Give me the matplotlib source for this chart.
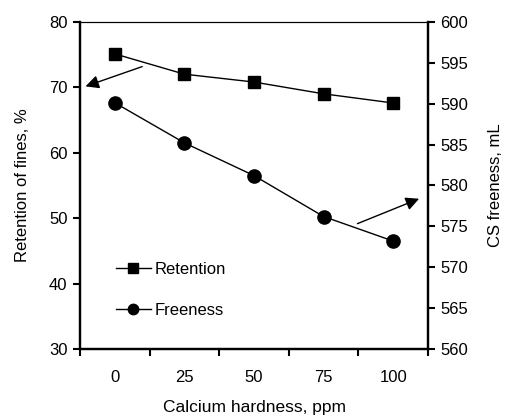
import matplotlib
matplotlib.use('Agg')
import matplotlib.pyplot as plt
from matplotlib.lines import Line2D

plt.rcParams['font.family'] = ['Liberation Sans', 'DejaVu Sans']

# data
hardness = ['0', '25', '50', '75', '100']
retention = [75.1, 72.0, 70.8, 69.0, 67.6]     # %, left axis
freeness = [590.1, 585.2, 581.2, 576.2, 573.2]  # mL, right axis

fig = plt.figure(figsize=(5.07, 4.2), dpi=100)
ax = fig.add_axes([0.158, 0.169, 0.686, 0.779])
ax2 = ax.twinx()

x = list(range(len(hardness)))
ax.plot(x, retention, '-s', color='black', lw=1, ms=9)
ax2.plot(x, freeness, '-o', color='black', lw=1, ms=9.5)

ax.set_xlim(-0.5, len(hardness) - 0.5)
ax.set_ylim(30, 80)
ax.set_yticks([30, 40, 50, 60, 70, 80])
ax2.set_ylim(560, 600)
ax2.set_yticks(range(560, 601, 5))

# category axis: ticks on the boundaries, labels in the middle
ax.set_xticks([i - 0.5 for i in range(len(hardness) + 1)])
ax.set_xticklabels([])
ax.set_xticks(x, minor=True)
ax.set_xticklabels(hardness, minor=True)
ax.tick_params(axis='x', which='major', length=5, width=1.5, direction='out')
ax.tick_params(axis='x', which='minor', length=0, pad=15, labelsize=12)
ax.tick_params(axis='y', length=5, width=1.5, direction='out', labelsize=12, pad=4)
ax2.tick_params(axis='y', length=5, width=1.5, direction='out', labelsize=12, pad=4)

for a in (ax, ax2):
    a.spines['top'].set_linewidth(0.8)
    a.spines['left'].set_linewidth(1.6)
    a.spines['right'].set_linewidth(1.6)
    a.spines['bottom'].set_linewidth(1.6)

ax.set_xlabel('Calcium hardness, ppm', fontsize=12.5, labelpad=11)
ax.set_ylabel('Retention of fines, %', fontsize=12, labelpad=14)
ax2.set_ylabel('CS freeness, mL', fontsize=12, labelpad=14)

# arrows pointing at the axis each series uses
ax.annotate('', xy=(-0.46, 70), xytext=(0.43, 73.3),
            arrowprops=dict(arrowstyle='-|>', color='black', lw=1, mutation_scale=20))
ax2.annotate('', xy=(4.41, 578.5), xytext=(3.45, 575.2),
             arrowprops=dict(arrowstyle='-|>', color='black', lw=1, mutation_scale=20))

handles = [Line2D([], [], color='black', marker='s', lw=1, ms=7),
           Line2D([], [], color='black', marker='o', lw=1, ms=7.5)]
ax.legend(handles, ['Retention', 'Freeness'], loc='lower left',
          bbox_to_anchor=(0.06, 0.05), frameon=False, fontsize=12,
          handlelength=2.1, handletextpad=0.2, labelspacing=1.55)

fig.savefig('out.png', dpi=100)
